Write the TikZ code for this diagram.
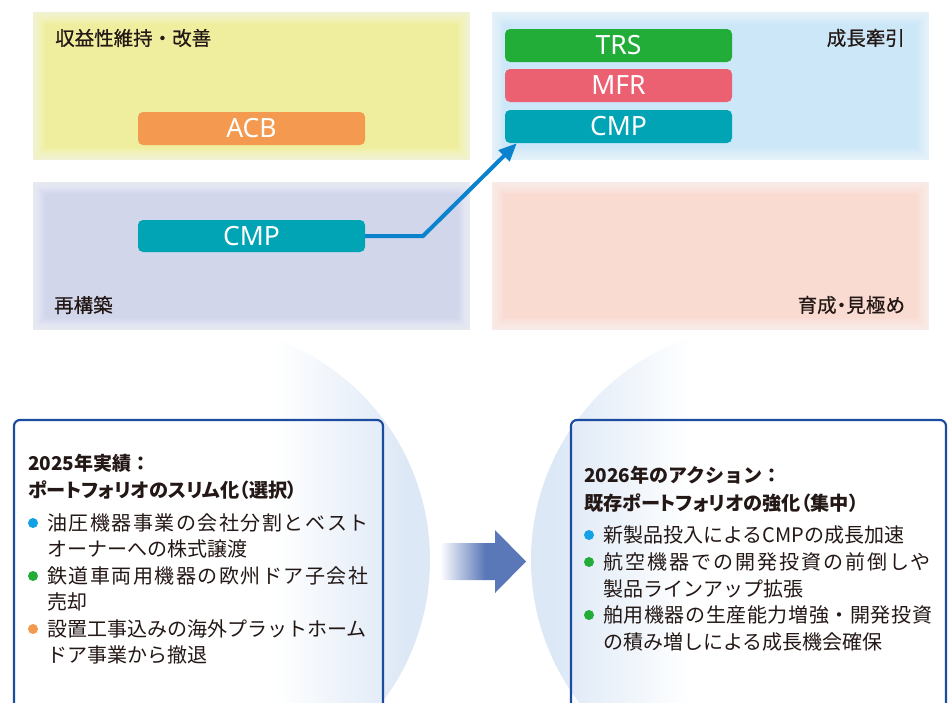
\documentclass[tikz,border=0pt]{standalone}
\usepackage{fontspec}
\setmainfont{Noto Sans CJK JP}
\newfontfamily\jp{Noto Sans CJK JP}
\newfontfamily\jpp[RawFeature=+palt]{Noto Sans CJK JP}
\newfontfamily\jpl[FakeBold=0.6]{Noto Sans CJK JP}
\newfontfamily\jplp[FakeBold=0.6,RawFeature=+palt]{Noto Sans CJK JP}
\newfontfamily\lat{Noto Sans}
\usetikzlibrary{arrows.meta}
\definecolor{qyellow}{HTML}{EFEE9E}
\definecolor{qblue}{HTML}{CCE7F8}
\definecolor{qpurple}{HTML}{D1D6EB}
\definecolor{qpink}{HTML}{F9DBD2}
\definecolor{segorange}{HTML}{F39A50}
\definecolor{segteal}{HTML}{00A4B5}
\definecolor{seggreen}{HTML}{22AC38}
\definecolor{segred}{HTML}{EB6171}
\definecolor{arrblue}{HTML}{0A82CD}
\definecolor{dotblue}{HTML}{12A0E6}
\definecolor{boxblue}{HTML}{1B4C9F}
\definecolor{circ}{HTML}{DDE8F6}
\definecolor{midarrow}{HTML}{5A78B8}
\definecolor{txt}{HTML}{231815}
\tikzset{
 quad/.style={minimum width=437pt, minimum height=148pt, inner sep=0pt, outer sep=0pt},
 soft/.style={draw=white, draw opacity=0.07},
 seg/.style={rounded corners=5pt, minimum width=227pt, minimum height=33pt, inner sep=0pt, text=white, font=\lat\fontsize{26.5}{26.5}\selectfont},
 qlabel/.style={inner sep=0pt, font=\jpl\fontsize{19.5}{20}\selectfont, text=txt},
 qlabelp/.style={inner sep=0pt, font=\jplp\fontsize{19.5}{20}\selectfont, text=txt},
 bigbox/.style={draw=boxblue, line width=2.2pt, rounded corners=6pt, inner sep=0pt},
 ttl/.style={anchor=west, inner sep=0pt, font=\jpp\bfseries\fontsize{19.2}{19.2}\selectfont, text=txt},
 ttlw/.style={anchor=west, inner sep=0pt, font=\jp\bfseries\fontsize{19}{19}\selectfont, text=txt},
 body/.style={anchor=west, inner sep=0pt, font=\jp\fontsize{20}{20}\selectfont, text=txt},
 bdot/.style={circle, inner sep=0pt, minimum size=10pt},
 conn/.style={draw=arrblue, line width=4pt, -{Triangle[length=18pt,width=15pt]}},
}
\newcommand{\softedge}[1]{%
 \foreach \w in {2,4,...,24} {\draw[soft, line width=\w pt] (#1.south west) rectangle (#1.north east);}}
\begin{document}
\begin{tikzpicture}[x=1pt,y=-1pt]
\useasboundingbox (0,0) rectangle (951,702);
\clip (0,0) rectangle (951,702);
\fill[white] (0,0) rectangle (951,702);
% quadrants
\node[quad, fill=qyellow] (qY) at (251.5,86) {};
\node[quad, fill=qblue] (qB) at (710.5,86) {};
\node[quad, fill=qpurple] (qP) at (251.5,256) {};
\node[quad, fill=qpink] (qK) at (710.5,256) {};
\softedge{qY}\softedge{qB}\softedge{qP}\softedge{qK}
\node[qlabel, anchor=west] (lY) at (55,38) {収益性維持・改善};
\node[qlabel, anchor=east] (lB) at (905,38) {成長牽引};
\node[qlabel, anchor=west] (lP) at (54,305) {再構築};
\node[qlabelp, anchor=east] (lK) at (905,305) {育成・見極め};
% segments
\node[seg, fill=segorange] (ACB) at (251.5,128.5) {ACB};
\node[seg, fill=segteal, minimum height=32pt] (CMPa) at (251.5,236) {CMP};
\node[seg, fill=seggreen] (TRS) at (618.5,45.5) {TRS};
\node[seg, fill=segred] (MFR) at (618.5,85.5) {MFR};
\node[seg, fill=segteal] (CMPb) at (618.5,126.5) {CMP};
\coordinate (bend) at (423,236);
\draw[conn] (CMPa.east) -- (bend) -- ([xshift=12pt]CMPb.south west);
% circles
\begin{scope}
\clip (195,560) circle[radius=235pt];
\fill[circ] (405,300) rectangle (440,720);
\shade[left color=white, right color=circ] (275,300) rectangle (405,720);
\end{scope}
\begin{scope}
\clip (766,560) circle[radius=235pt];
\fill[circ] (520,300) rectangle (556,720);
\shade[left color=circ, right color=white] (555,300) rectangle (690,720);
\end{scope}
% middle arrow
\begin{scope}
\clip (440,543) -- (495,543) -- (495,530) -- (526,561.5) -- (495,593) -- (495,580) -- (440,580) -- cycle;
\fill[midarrow] (484,520) rectangle (530,600);
\shade[left color=white, right color=midarrow] (440,520) rectangle (485,600);
\end{scope}
% boxes
\node[bigbox, minimum width=369pt, minimum height=292pt] (L) at (198.5,566) {};
\node[bigbox, minimum width=375pt, minimum height=292pt] (R) at (758.5,566) {};
% left text
\node[ttlw] (lt1) at (28,463) {2025年実績：};
\node[ttl] (lt2) at (28,490) {ポートフォリオのスリム化（選択）};
\node[bdot, fill=dotblue] (ld1) at (33,523) {};
\node[bdot, fill=seggreen] (ld2) at (33,576) {};
\node[bdot, fill=segorange] (ld3) at (33,629) {};
\node[body] (lb1) at (47,523) {\addfontfeature{LetterSpace=7.5}油圧機器事業の会社分割とベスト};
\node[body] (lb1b) at (47,549) {オーナーへの株式譲渡};
\node[body] (lb2) at (47,576) {\addfontfeature{LetterSpace=7.5}鉄道車両用機器の欧州ドア子会社};
\node[body] (lb2b) at (47,602) {売却};
\node[body] (lb3) at (47,629) {設置工事込みの海外プラットホーム};
\node[body] (lb3b) at (47,655) {ドア事業から撤退};
% right text
\node[ttlw] (rt1) at (584,475) {2026年のアクション：};
\node[ttl] (rt2) at (584,503) {既存ポートフォリオの強化（集中）};
\node[bdot, fill=dotblue] (rd1) at (589,535) {};
\node[bdot, fill=seggreen] (rd2) at (589,562) {};
\node[bdot, fill=seggreen] (rd3) at (589,615) {};
\node[body] (rb1) at (603,535) {新製品投入によるCMPの成長加速};
\node[body] (rb2) at (603,562) {\addfontfeature{LetterSpace=10}航空機器での開発投資の前倒しや};
\node[body] (rb2b) at (603,589) {製品ラインアップ拡張};
\node[body] (rb3) at (603,615) {\addfontfeature{LetterSpace=3}舶用機器の生産能力増強・開発投資};
\node[body] (rb3b) at (603,642) {の積み増しによる成長機会確保};
\end{tikzpicture}
\end{document}
